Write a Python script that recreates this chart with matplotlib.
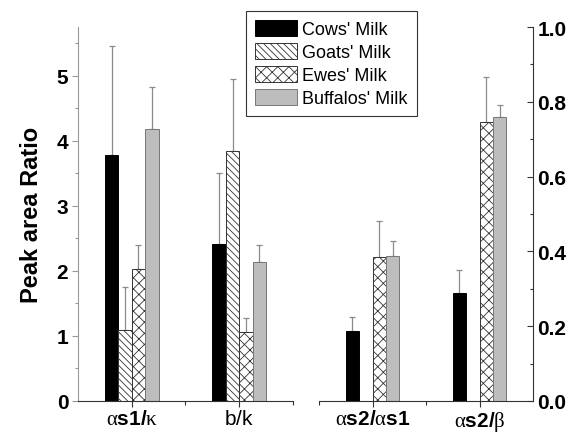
import matplotlib
matplotlib.use("Agg")
import matplotlib.pyplot as plt
import numpy as np

plt.rcParams['font.family'] = ['Liberation Sans', 'DejaVu Sans']
plt.rcParams['mathtext.fontset'] = 'custom'
plt.rcParams['mathtext.rm'] = 'Liberation Serif'
plt.rcParams['mathtext.it'] = 'Liberation Serif:italic'
plt.rcParams['mathtext.bf'] = 'Liberation Sans:bold'
plt.rcParams['mathtext.sf'] = 'Liberation Sans'
plt.rcParams['hatch.linewidth'] = 0.6

series = ["Cows' Milk", "Goats' Milk", "Ewes' Milk", "Buffalos' Milk"]

# Left axis groups (Peak area Ratio)
left_groups = [r'$\mathrm{\alpha}\mathbf{s1/}\mathrm{\kappa}$', r'$\mathsf{b/k}$']
left_vals = {
    "Cows' Milk":     [3.78, 2.42],
    "Goats' Milk":    [1.09, 3.84],
    "Ewes' Milk":     [2.03, 1.06],
    "Buffalos' Milk": [4.18, 2.14],
}
left_err = {
    "Cows' Milk":     [1.68, 1.08],
    "Goats' Milk":    [0.66, 1.11],
    "Ewes' Milk":     [0.37, 0.21],
    "Buffalos' Milk": [0.64, 0.26],
}

# Right axis groups
right_groups = [r'$\mathrm{\alpha}\mathbf{s2/}\mathrm{\alpha}\mathbf{s1}$',
                r'$\mathrm{\alpha}\mathbf{s2/}\mathrm{\beta}$']
right_vals = {
    "Cows' Milk":     [0.187, 0.290],
    "Goats' Milk":    [0.0, 0.0],
    "Ewes' Milk":     [0.386, 0.745],
    "Buffalos' Milk": [0.389, 0.759],
}
right_err = {
    "Cows' Milk":     [0.038, 0.060],
    "Goats' Milk":    [0.0, 0.0],
    "Ewes' Milk":     [0.094, 0.120],
    "Buffalos' Milk": [0.038, 0.032],
}

styles = {
    "Cows' Milk":     dict(facecolor='black', edgecolor='black', hatch=None),
    "Goats' Milk":    dict(facecolor='white', edgecolor='#333333', hatch='\\\\\\\\\\'),
    "Ewes' Milk":     dict(facecolor='white', edgecolor='#333333', hatch='xxx'),
    "Buffalos' Milk": dict(facecolor='#bdbdbd', edgecolor='#777777', hatch=None),
}

W, H = 574, 435
fig = plt.figure(figsize=(W / 100, H / 100), dpi=100)
ax1 = fig.add_axes([78 / W, 1 - 402 / H, 215 / W, 374 / H])
ax2 = fig.add_axes([319 / W, 1 - 402 / H, 214 / W, 374 / H])

bw = 0.125
offsets = [-1.5 * bw, -0.5 * bw, 0.5 * bw, 1.5 * bw]


def draw(ax, xs, vals, errs):
    handles = []
    for s, off in zip(series, offsets):
        v = np.array(vals[s])
        e = np.array(errs[s])
        st = styles[s]
        mask = v > 0
        b = ax.bar(xs[mask] + off, v[mask], width=bw, facecolor=st['facecolor'],
                   edgecolor=st['edgecolor'], hatch=st['hatch'], linewidth=0.7,
                   label=s, zorder=2)
        ax.errorbar(xs[mask] + off, v[mask], yerr=[np.zeros(mask.sum()), e[mask]],
                    fmt='none', ecolor='#8a8a8a', elinewidth=0.9, capsize=2.2,
                    capthick=0.9, zorder=1)
        handles.append(b)
    return handles


xl = np.array([1.0, 2.0])
xr = np.array([3.0, 4.0])
handles = draw(ax1, xl, left_vals, left_err)
draw(ax2, xr, right_vals, right_err)

# Left axis styling
ax1.set_xlim(0.5, 2.5)
ax1.set_ylim(0, 5.75)
ax1.spines['top'].set_visible(False)
ax1.spines['right'].set_visible(False)
ax1.spines['left'].set_color('#999999')
ax1.spines['bottom'].set_color('#333333')
ax1.set_yticks([0, 1, 2, 3, 4, 5])
ax1.set_yticks(np.arange(0.5, 5.75, 1.0), minor=True)
ax1.set_xticks(xl)
ax1.set_xticklabels(left_groups, fontsize=15)
ax1.set_xticks([1.5, 2.5], minor=True)
ax1.tick_params(axis='y', which='major', direction='out', length=4, width=0.8,
                color='#999999', labelsize=15, pad=3)
ax1.tick_params(axis='y', which='minor', direction='out', length=2.5, width=0.8, color='#999999')
ax1.tick_params(axis='x', which='major', direction='out', length=4, width=0.8,
                color='#333333', pad=2)
ax1.tick_params(axis='x', which='minor', direction='out', length=3, width=0.8, color='#333333')
for t in ax1.get_yticklabels():
    t.set_fontweight('bold')
ax1.set_ylabel('Peak area Ratio', fontsize=17, fontweight='bold', labelpad=10)

# Right axis styling
ax2.set_xlim(2.5, 4.5)
ax2.set_ylim(0, 1.0)
ax2.spines['top'].set_visible(False)
ax2.spines['left'].set_visible(False)
ax2.spines['right'].set_color('#333333')
ax2.spines['bottom'].set_color('#333333')
ax2.yaxis.tick_right()
ax2.set_yticks([0.0, 0.2, 0.4, 0.6, 0.8, 1.0])
ax2.set_yticklabels(['0.0', '0.2', '0.4', '0.6', '0.8', '1.0'])
ax2.set_yticks([0.1, 0.3, 0.5, 0.7, 0.9], minor=True)
ax2.set_xticks(xr)
ax2.set_xticklabels(right_groups, fontsize=15)
ax2.set_xticks([2.5, 3.5], minor=True)
ax2.tick_params(axis='y', which='major', direction='in', length=4, width=0.8,
                color='#333333', labelsize=15, pad=3)
ax2.tick_params(axis='y', which='minor', direction='in', length=2.5, width=0.8, color='#333333')
ax2.tick_params(axis='x', which='major', direction='out', length=4, width=0.8,
                color='#333333', pad=2)
ax2.tick_params(axis='x', which='minor', direction='out', length=3, width=0.8, color='#333333')
for t in ax2.get_yticklabels():
    t.set_fontweight('bold')

leg = fig.legend(handles, series, loc='upper left',
                 bbox_to_anchor=(246 / W, 1 - 12 / H), fontsize=13,
                 handlelength=2.3, handleheight=0.95, labelspacing=0.28,
                 handletextpad=0.3, borderpad=0.5, borderaxespad=0,
                 fancybox=False, frameon=True, edgecolor='black')
leg.get_frame().set_linewidth(0.8)

fig.savefig('out.png', dpi=100)
